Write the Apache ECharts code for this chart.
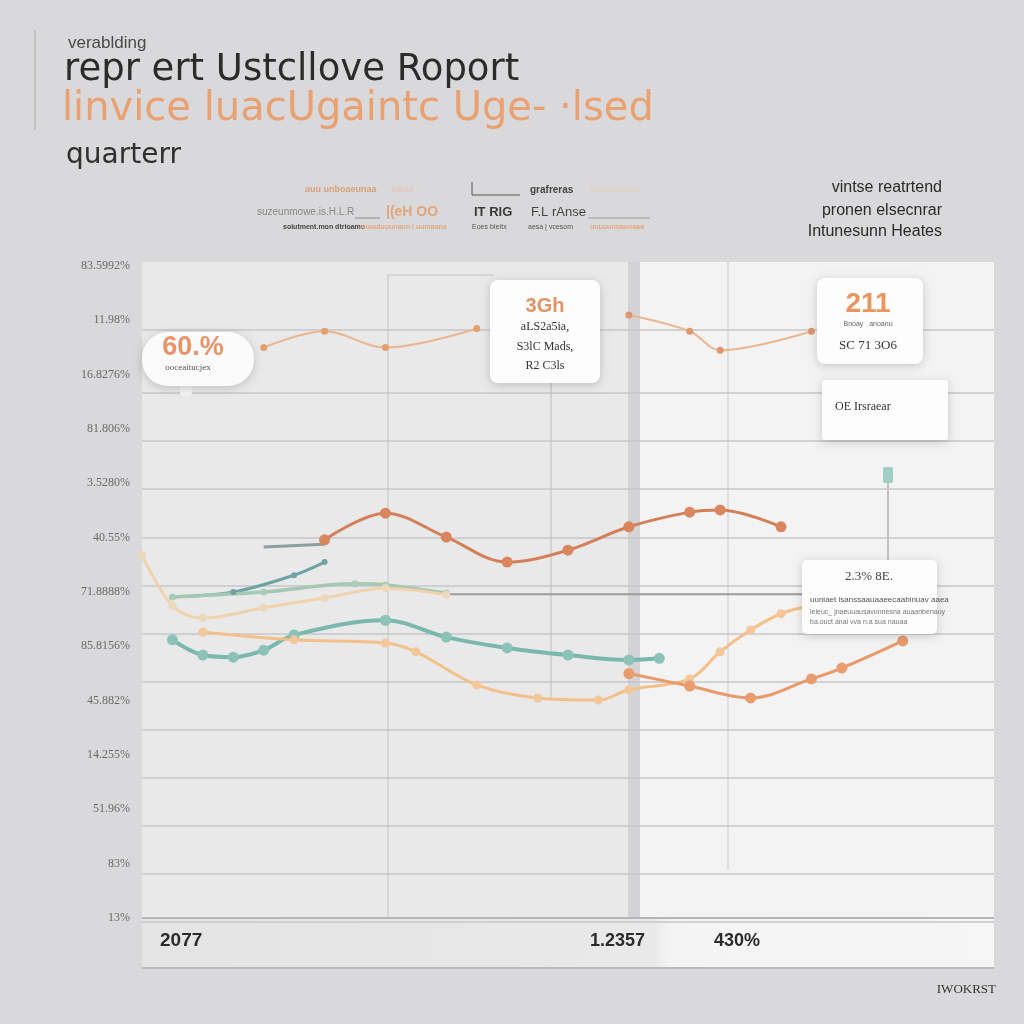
<!DOCTYPE html>
<html><head><meta charset="utf-8">
<script src="https://cdn.jsdelivr.net/npm/echarts@6/dist/echarts.min.js"></script>
<style>html,body{margin:0;padding:0;background:#d9d9db}#c{width:1024px;height:1024px}</style>
</head><body><div id="c"></div>
<script>
// ---- data ----
const categories = Array.from({length:29},(_,i)=>'P'+(i+1));
const yTickLabels = ['13%','83%','51.96%','14.255%','45.882%','85.8156%','71.8888%','40.55%','3.5280%','81.806%','16.8276%','11.98%','83.5992%'];
const bottomLabels = ['2077','1.2357','430%'];
const N = null;
const topPeachA  = [N,N,N,N,10.5,N,10.8,N,10.5,N,N,10.85,N,N,N,N,N,N,N,N,N,N,N,N,N,N,N,N,N];
const topPeachB  = [N,N,N,N,N,N,N,N,N,N,N,N,N,N,N,N,11.1,N,10.8,10.45,N,N,10.8,N,N,N,N,N,N];
const rust       = [N,N,N,N,N,N,6.96,N,7.45,N,7.01,N,6.55,N,6.77,N,7.2,N,7.47,7.51,N,7.2,N,N,N,N,N,N,N];
const slateShort = [N,N,N,N,6.83,N,6.88,N,N,N,N,N,N,N,N,N,N,N,N,N,N,N,N,N,N,N,N,N,N];
const tealUpper  = [N,5.91,N,6.0,N,6.31,6.55,N,N,N,N,N,N,N,N,N,N,N,N,N,N,N,N,N,N,N,N,N,N];
const sage       = [N,5.91,N,N,6.0,N,N,6.15,6.13,N,5.98,N,N,N,N,N,N,N,N,N,N,N,N,N,N,N,N,N,N];
const grayFlat   = [N,N,N,N,N,N,N,N,N,N,5.96,N,N,N,N,N,N,N,N,N,N,N,5.96,N,N,N,N,N,N];
const paleSand   = [6.68,5.75,5.52,N,5.71,N,5.89,N,6.07,N,5.95,N,N,N,N,N,N,N,N,N,N,N,N,N,N,N,N,N,N];
const tealLower  = [N,5.12,4.84,4.8,4.93,5.21,N,N,5.48,N,5.17,N,4.97,N,4.84,N,4.75,4.78,N,N,N,N,N,N,N,N,N,N,N];
const apricot    = [N,N,5.26,N,N,5.12,N,N,5.06,4.9,N,4.29,N,4.05,N,4.01,4.2,N,4.4,4.9,5.3,5.6,5.75,N,N,N,N,N,N];
const coral      = [N,N,N,N,N,N,N,N,N,N,N,N,N,N,N,N,4.5,N,4.27,N,4.05,N,4.4,4.6,N,5.1,N,N,N];

function line(data,color,width,sym,symColor){
  return {type:'line',data:data,connectNulls:true,smooth:0.35,xAxisIndex:0,yAxisIndex:0,
    lineStyle:{color:color,width:width},itemStyle:{color:symColor||color},
    symbol:sym?'circle':'none',symbolSize:sym||0,showSymbol:!!sym,z:5};
}

const chart = echarts.init(document.getElementById('c'));
const T = (x,y,text,size,color,weight,font,align)=>({type:'text',x:x,y:y,z:120,style:{text:text,fontSize:size,fill:color,fontWeight:weight||'normal',fontFamily:font||'Liberation Sans, Arial, sans-serif',textAlign:align||'left',textVerticalAlign:'middle'}});
const R = (x,y,w,h,fill,z,extra)=>Object.assign({type:'rect',z:z,shape:{x:x,y:y,width:w,height:h,r:(extra&&extra.r)||0},style:Object.assign({fill:fill},(extra&&extra.style)||{})});
const L = (x1,y1,x2,y2,color,w,z)=>({type:'line',z:z||1,shape:{x1:x1,y1:y1,x2:x2,y2:y2},style:{stroke:color,lineWidth:w||1}});
const boxStyle = {shadowBlur:10,shadowColor:'rgba(0,0,0,0.18)',shadowOffsetY:2};
const DJ = 'DejaVu Sans, sans-serif';

chart.setOption({
  backgroundColor:'#d9d9db',
  animation:false,
  grid:[{left:142,right:30,top:266,bottom:106},{left:142,right:30,top:393,bottom:102}],
  xAxis:[
    {type:'category',data:categories,boundaryGap:false,gridIndex:0,axisLine:{show:false},axisTick:{show:false},axisLabel:{show:false},splitLine:{show:false}},
    {type:'value',gridIndex:1,show:false,min:0,max:1}
  ],
  yAxis:[
    {type:'value',gridIndex:0,min:0,max:12,interval:1,axisLine:{show:false},axisTick:{show:false},splitLine:{show:false},
     axisLabel:{margin:12,color:'#6a6a6a',fontSize:12,fontFamily:'Liberation Serif, serif',formatter:v=>yTickLabels[v]||''}},
    {type:'value',gridIndex:1,min:0,max:11,interval:1,axisLine:{show:false},axisTick:{show:false},axisLabel:{show:false},
     splitLine:{show:true,lineStyle:{color:'#c6c6ca',width:1.5}}}
  ],
  series:[
    line(topPeachA,'#e9b690',2,7,'#e4a06c'),
    line(topPeachB,'#e9b690',2,7,'#e0956a'),
    line(slateShort,'#8a9ea3',3,0),
    line(rust,'#d3805a',3,11,'#d9855d'),
    line(tealUpper,'#6fa2a4',3,6),
    line(sage,'#a5c8b2',3.5,7,'#a9cdb8'),
    line(grayFlat,'#9b9b9b',2,0),
    line(paleSand,'#f0d2ad',3,8,'#eed8bd'),
    line(tealLower,'#7ab8ad',4,11,'#8cc2b8'),
    line(apricot,'#f3c08a',3,9,'#f3c79a'),
    line(coral,'#e89a6a',3,11,'#e99c6e')
  ],
  graphic:[
    // panel
    R(142,262,852,706,'#e9e9ea',-20),
    R(640,262,354,656,'#f3f3f3',-19),
    R(628,262,12,656,'#d3d3d5',-18),
    R(142,918,852,50,new echarts.graphic.LinearGradient(0,0,1,0,[{offset:0,color:'#e4e4e5'},{offset:0.6,color:'#e9e9ea'},{offset:0.62,color:'#f4f4f4'},{offset:1,color:'#f6f6f6'}]),-17),
    L(142,330,994,330,'#c6c6ca',1.5,-16),
    L(142,918,994,918,'#b5b5b8',2,-16),
    L(142,968,994,968,'#b9b9bc',2,-16),
    L(388,275,388,918,'#c2c2c4',1,-15),
    L(388,275,494,275,'#c2c2c4',1,-15),
    L(551,383,551,700,'#bdbdbf',1,-15),
    L(728,262,728,870,'#cbcbcd',1,-15),
    L(888,470,888,560,'#a9b3b3',1.5,-15),
    R(883,467,10,16,'#9fcdc3',6,{r:2}),
    // title block
    L(35,30,35,130,'#a8a8a8',1,1),
    T(68,43,'verablding',17,'#4a4a4a'),
    T(64,70,'repr ert Ustcllove Roport',37,'#2b2b2b','normal',DJ),
    T(62,110,'linvice luacUgaintc Uge- ·lsed',40,'#e9a172','normal',DJ),
    T(66,156,'quarterr',28,'#2f2f2f','normal',DJ),
    // legend-ish rows
    T(305,190,'auu unboaeunaa',9,'#d9a07a','bold'),
    T(392,190,'luluut ·',9,'#e3c4ae'),
    L(472,182,472,195,'#555',1,1), L(472,195,520,195,'#555',1,1),
    T(530,190,'grafreras',10,'#444','bold'),
    T(590,190,'uuuuuunuuu',9,'#e6cdb8'),
    T(257,212,'suzeunmowe.is.H.L.R',10,'#888'),
    L(355,218,380,218,'#8a8a8a',1,1),
    T(386,212,'|(eH OO',14,'#e1a57b','bold'),
    T(474,212,'IT RIG',13,'#3a3a3a','bold'),
    T(531,212,'F.L rAnse',13,'#444'),
    L(588,218,650,218,'#999',1,1),
    T(283,227,'soiutment.mon dtrioamo',7,'#444','bold'),
    T(360,227,'wuuutuuunaun l uumaana',7,'#e3a883','bold'),
    T(472,227,'Eoes bIeitx',7,'#555'),
    T(528,227,'aesa | vcesom',7,'#555'),
    T(590,227,'uuuuunnaunaaa',7,'#e3a883','bold'),
    T(942,188,'vintse reatrtend',16,'#2a2a2a','normal',null,'right'),
    T(942,211,'pronen elsecnrar',16,'#2a2a2a','normal',null,'right'),
    T(942,232,'Intunesunn Heates',16,'#2a2a2a','normal',null,'right'),
    // bubble
    R(142,332,112,54,'#fbfbfb',100,{r:26,style:boxStyle}),
    R(180,384,12,12,'#f3f3f3',99,{r:4}),
    T(193,348,'60.%',27,'#e8946a','bold',null,'center'),
    T(188,368,'ooceaitucjex',9,'#555','normal','Liberation Serif, serif','center'),
    // box 1
    R(490,280,110,103,'#fdfdfd',100,{r:8,style:boxStyle}),
    T(545,306,'3Gh',20,'#e39467','bold',null,'center'),
    T(545,327,'aLS2a5ia,',12,'#333','normal','Liberation Serif, serif','center'),
    T(545,347,'S3lC Mads,',12,'#333','normal','Liberation Serif, serif','center'),
    T(545,366,'R2 C3ls',12,'#333','normal','Liberation Serif, serif','center'),
    // box 2
    R(817,278,106,86,'#fdfdfd',100,{r:8,style:boxStyle}),
    T(868,304,'211',28,'#e8955f','bold',null,'center'),
    T(868,324,'Bnoay   anoanu',7,'#666','normal',null,'center'),
    T(868,346,'SC 71 3O6',13,'#333','normal','Liberation Serif, serif','center'),
    // box 3
    R(822,380,126,60,'#fdfdfd',100,{r:3,style:boxStyle}),
    T(835,407,'OE Irsraear',12,'#333','normal','Liberation Serif, serif'),
    // box 4
    R(802,560,135,74,'#fdfdfd',100,{r:5,style:boxStyle}),
    T(869,577,'2.3% 8E.',13,'#444','normal','Liberation Serif, serif','center'),
    T(810,600,'uuniaet isanssaauaaeecaabinuav aaea',8,'#555'),
    T(810,612,'leieuc_ jnaeuuausavunnesna auaanbenauy',7,'#777'),
    T(810,622,'ba.ouct anai vva n.a sua nauaa',7,'#777'),
    // bottom labels
    T(160,941,bottomLabels[0],19,'#2b2b2b','bold'),
    T(590,941,bottomLabels[1],18,'#2b2b2b','bold'),
    T(714,941,bottomLabels[2],18,'#2b2b2b','bold'),
    T(996,990,'IWOKRST',13,'#333','normal','Liberation Serif, serif','right')
  ]
});
</script></body></html>
